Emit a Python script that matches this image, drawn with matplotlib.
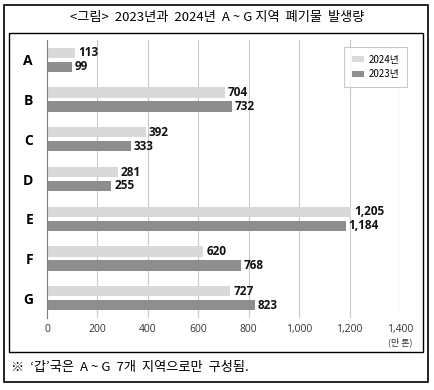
import matplotlib
matplotlib.use("Agg")
import matplotlib.pyplot as plt
from matplotlib.patches import Rectangle
import numpy as np

plt.rcParams['font.family'] = ['Noto Sans CJK KR', 'DejaVu Sans']

categories = ['A', 'B', 'C', 'D', 'E', 'F', 'G']
v2024 = [113, 704, 392, 281, 1205, 620, 727]
v2023 = [99, 732, 333, 255, 1184, 768, 823]
xticks = [0, 200, 400, 600, 800, 1000, 1200, 1400]
title = '<그림>  2023년과  2024년  A ~ G 지역  폐기물  발생량'
footnote = '※  \u2018갑\u2019국은  A ~ G  7개  지역으로만  구성됨.'

W, H = 435, 390
fig = plt.figure(figsize=(W / 100, H / 100), dpi=100)

def fx(px):
    return px / W

def fy(py):
    return 1 - py / H

# frames
fig.patches.append(Rectangle((fx(4.5), fy(381.5)), fx(428.5) - fx(4.5), fy(5) - fy(381.5),
                             transform=fig.transFigure, fill=False, ec='black', lw=1.2))
fig.patches.append(Rectangle((fx(9), fy(352)), fx(423) - fx(9), fy(33) - fy(352),
                             transform=fig.transFigure, fill=False, ec='black', lw=1.0))

ax = fig.add_axes([fx(47), fy(318), fx(400) - fx(47), fy(40) - fy(318)])

y = np.arange(len(categories))
h = 0.26
off = 0.175
c24 = '#d9d9d9'
c23 = '#8e8e8e'
ax.barh(y - off, v2024, height=h, color=c24, label='2024년', zorder=3)
ax.barh(y + off, v2023, height=h, color=c23, label='2023년', zorder=3)

lab_font = ['Open Sans', 'DejaVu Sans']
for yi, a, b in zip(y, v2024, v2023):
    ax.text(a + 12, yi - off, f'{a:,}', va='center', ha='left', fontsize=8.5,
            fontweight='bold', color='#111111', family=lab_font)
    ax.text(b + 12, yi + off, f'{b:,}', va='center', ha='left', fontsize=8.5,
            fontweight='bold', color='#111111', family=lab_font)

ax.set_ylim(len(categories) - 0.5, -0.5)
ax.set_xlim(0, 1400)
ax.set_xticks(xticks)
ax.set_xticklabels([f'{t:,}' for t in xticks], fontsize=7.5, color='#333333',
                   family=lab_font)
ax.set_yticks(y)
ax.set_yticklabels(categories, fontsize=10, fontweight='bold', family=lab_font)
ax.tick_params(axis='x', length=0, pad=4)
ax.tick_params(axis='y', length=0, pad=10)
ax.grid(axis='x', color='#c8c8c8', lw=0.8, zorder=0)
for s in ['top', 'right', 'bottom']:
    ax.spines[s].set_visible(False)
ax.spines['left'].set_color('#7f7f7f')
ax.spines['left'].set_linewidth(0.8)
ax.spines['left'].set_zorder(4)

fig.text(fx(400), fy(342.5), '(만 톤)', ha='center', va='center', fontsize=6.5, color='#333333')

leg = fig.legend(loc='upper left', bbox_to_anchor=(fx(339), fy(42)), bbox_transform=fig.transFigure,
                 fontsize=7, frameon=True, fancybox=False, edgecolor='#bbbbbb',
                 handlelength=1.3, handleheight=0.6, borderpad=0.8, labelspacing=0.5,
                 handletextpad=0.4)
leg.get_frame().set_linewidth(0.8)

fig.text(fx(217), fy(17), title, ha='center', va='center', fontsize=9.5)
fig.text(fx(11), fy(367), footnote, ha='left', va='center', fontsize=9.5)

fig.savefig('out.png', dpi=100)
